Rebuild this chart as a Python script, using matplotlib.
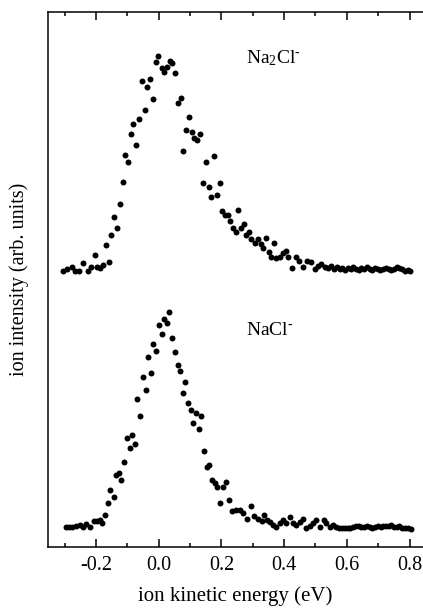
import matplotlib
matplotlib.use("Agg")
import matplotlib.pyplot as plt
import matplotlib.ticker as tck

# Na2Cl- spectrum (upper trace, offset), energy in eV / intensity in arb. units
na2cl_x = [-0.305, -0.294, -0.278, -0.268, -0.254, -0.241, -0.227, -0.217, -0.204, -0.197,
           -0.186, -0.178, -0.167, -0.159, -0.151, -0.141, -0.133, -0.124, -0.115, -0.107,
           -0.098, -0.089, -0.081, -0.071, -0.063, -0.053, -0.045, -0.036, -0.028, -0.018,
           -0.010, -0.001, 0.009, 0.017, 0.026, 0.035, 0.044, 0.052, 0.061, 0.070,
           0.079, 0.088, 0.096, 0.105, 0.114, 0.123, 0.132, 0.140, 0.150, 0.159,
           0.167, 0.175, 0.185, 0.194, 0.202, 0.211, 0.221, 0.229, 0.238, 0.247,
           0.254, 0.261, 0.272, 0.278, 0.288, 0.296, 0.306, 0.317, 0.325, 0.333,
           0.341, 0.351, 0.359, 0.369, 0.375, 0.386, 0.396, 0.405, 0.412, 0.426,
           0.439, 0.448, 0.460, 0.473, 0.485, 0.498, 0.508, 0.519, 0.530, 0.540,
           0.551, 0.560, 0.568, 0.577, 0.585, 0.593, 0.603, 0.612, 0.620, 0.628,
           0.638, 0.646, 0.654, 0.663, 0.673, 0.681, 0.689, 0.699, 0.707, 0.715,
           0.724, 0.734, 0.742, 0.750, 0.759, 0.767, 0.775, 0.785, 0.794, 0.802]
na2cl_y = [276, 278, 280, 276, 276, 284, 276, 280, 292, 280,
           279, 282, 302, 285, 312, 330, 319, 343, 365, 392,
           385, 413, 423, 402, 428, 466, 437, 460, 468, 448,
           485, 491, 479, 475, 480, 486, 484, 474, 444, 449,
           396, 417, 430, 415, 409, 407, 413, 364, 385, 360,
           350, 391, 352, 364, 336, 332, 332, 326, 319, 315,
           337, 319, 323, 312, 315, 308, 304, 308, 303, 299,
           309, 295, 290, 304, 289, 290, 294, 296, 290, 279,
           290, 286, 280, 286, 285, 278, 281, 283, 280, 279,
           281, 278, 280, 278, 279, 277, 279, 278, 280, 278,
           277, 279, 278, 280, 278, 277, 279, 278, 277, 278,
           279, 278, 277, 278, 280, 279, 278, 276, 277, 276]

# NaCl- spectrum (lower trace)
nacl_x = [-0.297, -0.286, -0.275, -0.265, -0.252, -0.241, -0.231, -0.218, -0.207, -0.197,
          -0.188, -0.180, -0.170, -0.162, -0.154, -0.144, -0.137, -0.128, -0.119, -0.111,
          -0.102, -0.093, -0.085, -0.077, -0.068, -0.060, -0.051, -0.042, -0.034, -0.026,
          -0.017, -0.009, 0.000, 0.009, 0.017, 0.026, 0.034, 0.042, 0.051, 0.060,
          0.068, 0.077, 0.085, 0.093, 0.102, 0.111, 0.119, 0.128, 0.136, 0.144,
          0.153, 0.162, 0.170, 0.179, 0.187, 0.196, 0.204, 0.215, 0.223, 0.234,
          0.245, 0.258, 0.269, 0.283, 0.293, 0.304, 0.317, 0.328, 0.335, 0.344,
          0.354, 0.365, 0.375, 0.386, 0.396, 0.407, 0.418, 0.428, 0.439, 0.450,
          0.460, 0.471, 0.482, 0.492, 0.501, 0.514, 0.526, 0.535, 0.545, 0.556,
          0.567, 0.576, 0.585, 0.593, 0.603, 0.611, 0.619, 0.628, 0.638, 0.646,
          0.654, 0.663, 0.673, 0.681, 0.689, 0.699, 0.708, 0.716, 0.724, 0.734,
          0.742, 0.750, 0.759, 0.767, 0.775, 0.785, 0.794, 0.804]
nacl_y = [20, 20, 20, 21, 22, 20, 23, 20, 26, 26,
          27, 24, 32, 44, 57, 50, 72, 74, 67, 85,
          109, 99, 112, 103, 148, 131, 170, 157, 190, 174,
          203, 196, 222, 213, 228, 224, 235, 209, 195, 182,
          176, 154, 165, 144, 137, 124, 134, 118, 131, 96,
          80, 82, 67, 64, 60, 44, 60, 65, 47, 36,
          37, 37, 34, 28, 41, 31, 28, 26, 32, 27,
          25, 22, 20, 24, 27, 24, 30, 24, 22, 25,
          28, 19, 21, 24, 27, 20, 27, 24, 20, 22,
          20, 19, 19, 19, 19, 19, 20, 21, 21, 20,
          20, 21, 20, 19, 20, 21, 20, 21, 21, 21,
          22, 20, 20, 21, 19, 19, 19, 18]

plt.rcParams['font.family'] = ['Liberation Serif', 'DejaVu Serif']
plt.rcParams['mathtext.fontset'] = 'custom'
plt.rcParams['mathtext.rm'] = 'Liberation Serif'
plt.rcParams['mathtext.it'] = 'Liberation Serif:italic'
plt.rcParams['axes.unicode_minus'] = False

fig = plt.figure(figsize=(4.23, 6.09), dpi=100)
ax = fig.add_axes([0.1135, 0.1026, 0.8865, 0.8785])

ax.plot(na2cl_x, na2cl_y, 'o', color='black', ms=4.3, mec='none')
ax.plot(nacl_x, nacl_y, 'o', color='black', ms=4.3, mec='none')

ax.text(0.365, 488, r'Na$_2$Cl$^{\text{-}}$', fontsize=14, ha='center', va='center')
ax.text(0.355, 216, r'NaCl$^{\text{-}}$', fontsize=14, ha='center', va='center')

ax.set_xlim(-0.353, 0.843)
ax.set_ylim(0, 535)
ax.xaxis.set_major_locator(tck.MultipleLocator(0.2))
ax.xaxis.set_minor_locator(tck.MultipleLocator(0.1))
ax.xaxis.set_major_formatter(tck.FormatStrFormatter('%.1f'))
ax.set_yticks([])
ax.tick_params(axis='x', which='both', direction='in', top=True, width=1.1, labelsize=14.5, pad=7)
ax.tick_params(axis='x', which='major', length=6)
ax.tick_params(axis='x', which='minor', length=3)
ax.spines['right'].set_visible(False)
for s in ['left', 'bottom', 'top']:
    ax.spines[s].set_linewidth(1.1)

ax.set_xlabel('ion kinetic energy (eV)', fontsize=15, labelpad=8)
ax.set_ylabel('ion intensity (arb. units)', fontsize=14.5, labelpad=14)

fig.savefig('out.png', dpi=100)
